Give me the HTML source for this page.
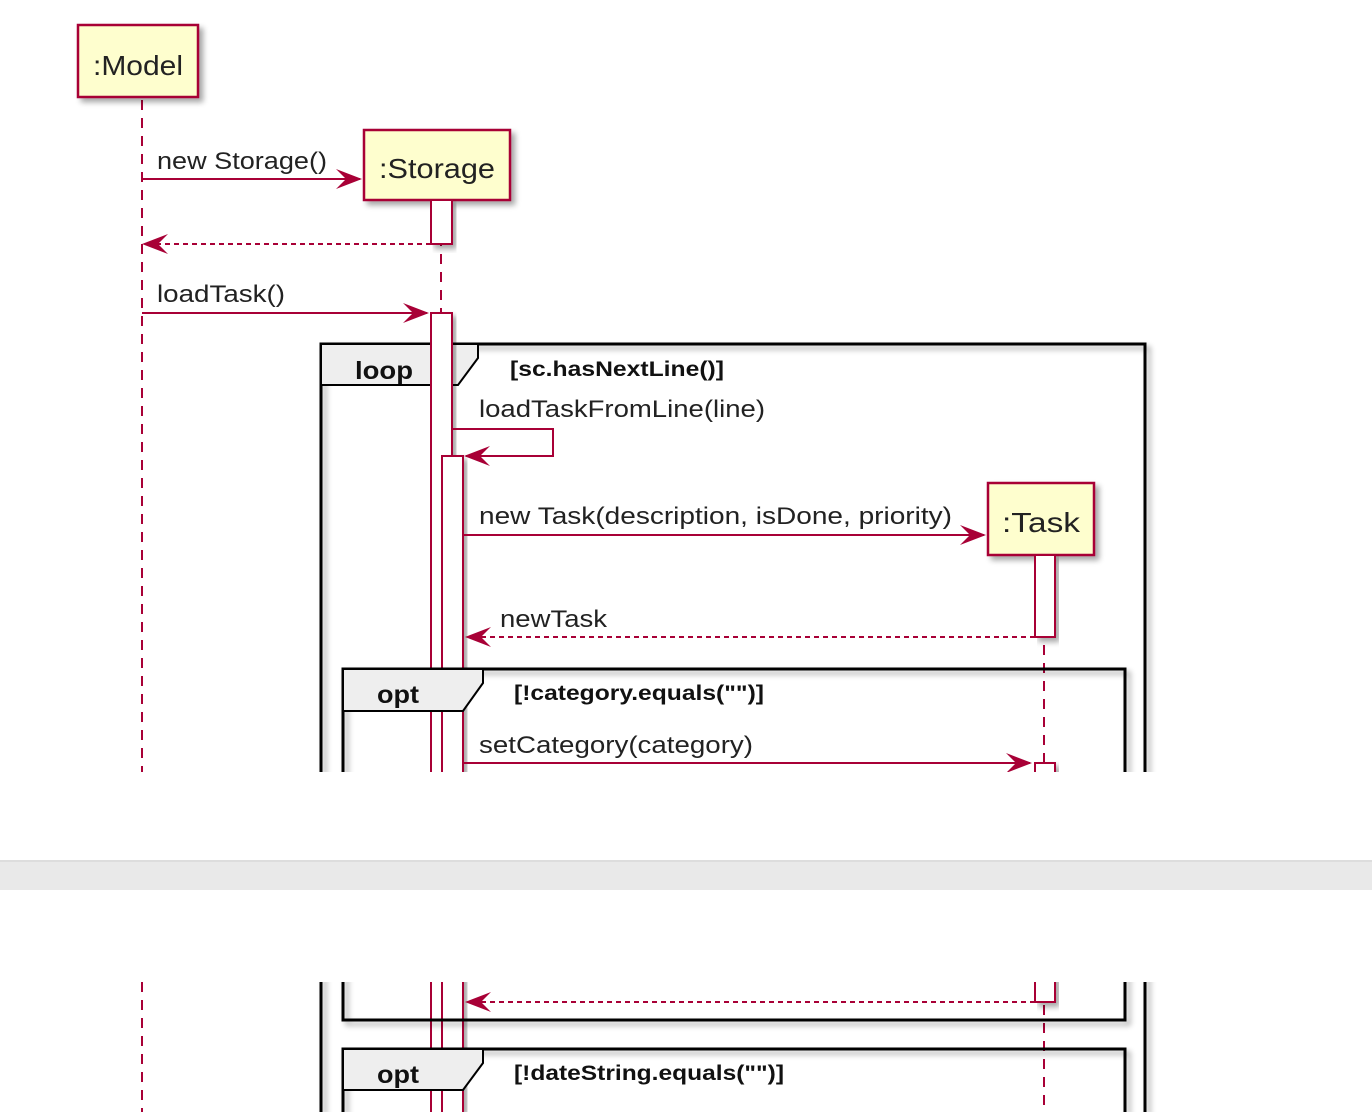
<!DOCTYPE html>
<html><head><meta charset="utf-8"><style>
html,body{margin:0;padding:0;background:#fff;width:1372px;height:1112px;overflow:hidden}
svg{display:block}
.m{font-family:"Liberation Sans Narrow","Liberation Sans",sans-serif;font-size:24px;fill:#222}
.p{font-family:"Liberation Sans Narrow","Liberation Sans",sans-serif;font-size:28px;fill:#222}
.g{font-family:"Liberation Sans Narrow","Liberation Sans",sans-serif;font-size:21px;font-weight:bold;fill:#111}
.t{font-family:"Liberation Sans","Liberation Sans",sans-serif;font-size:25px;font-weight:bold;fill:#111}
</style></head><body>
<svg width="1372" height="1112" viewBox="0 0 1372 1112" xmlns="http://www.w3.org/2000/svg" style="overflow:hidden">
<defs>
<filter id="sh" x="-10%" y="-10%" width="130%" height="130%"><feGaussianBlur in="SourceAlpha" stdDeviation="3"/><feOffset dx="4" dy="4"/><feComponentTransfer><feFuncA type="linear" slope="0.35"/></feComponentTransfer><feMerge><feMergeNode/><feMergeNode in="SourceGraphic"/></feMerge></filter>
</defs>
<g stroke="#A80036" stroke-width="2" fill="none">
<line x1="142" y1="100" x2="142" y2="1112" stroke-dasharray="10,8"/>
<line x1="441" y1="200" x2="441" y2="1112" stroke-dasharray="10,8"/>
<line x1="1044" y1="555" x2="1044" y2="1112" stroke-dasharray="10,8"/>
</g>
<rect x="78" y="25" width="120" height="72" fill="#FEFECE" stroke="#A80036" stroke-width="2.5" filter="url(#sh)"/>
<text x="93" y="75" class="p" textLength="90" lengthAdjust="spacingAndGlyphs">:Model</text>
<rect x="364" y="130" width="146" height="70" fill="#FEFECE" stroke="#A80036" stroke-width="2.5" filter="url(#sh)"/>
<text x="379" y="178" class="p" textLength="116" lengthAdjust="spacingAndGlyphs">:Storage</text>
<rect x="431" y="200" width="21" height="44" fill="#fff" stroke="#A80036" stroke-width="2" filter="url(#sh)"/>
<path d="M321,1112 V344 H1145 V1112" fill="none" stroke="#000" stroke-width="3" filter="url(#sh)"/>
<path d="M321,344 H478 V358 L458,385 H321 Z" fill="#EEEEEE" stroke="#000" stroke-width="2"/>
<text x="355" y="379" class="t" textLength="58" lengthAdjust="spacingAndGlyphs">loop</text>
<text x="510" y="376" class="g" textLength="214" lengthAdjust="spacingAndGlyphs">[sc.hasNextLine()]</text>
<path d="M431,1112 V313 H452 V1112" fill="#fff" stroke="#A80036" stroke-width="2" filter="url(#sh)"/>
<path d="M442,1112 V456 H463 V1112" fill="#fff" stroke="#A80036" stroke-width="2" filter="url(#sh)"/>
<rect x="988" y="483" width="106" height="72" fill="#FEFECE" stroke="#A80036" stroke-width="2.5" filter="url(#sh)"/>
<text x="1002" y="532" class="p" textLength="78" lengthAdjust="spacingAndGlyphs">:Task</text>
<rect x="1035" y="555" width="20" height="82" fill="#fff" stroke="#A80036" stroke-width="2" filter="url(#sh)"/>
<rect x="343" y="669" width="782" height="351" fill="none" stroke="#000" stroke-width="3" filter="url(#sh)"/>
<path d="M343,669 H483 V683 L463,711 H343 Z" fill="#EEEEEE" stroke="#000" stroke-width="2"/>
<text x="377" y="703" class="t" textLength="42" lengthAdjust="spacingAndGlyphs">opt</text>
<text x="514" y="700" class="g" textLength="250" lengthAdjust="spacingAndGlyphs">[!category.equals("")]</text>
<rect x="1035" y="763" width="20" height="239" fill="#fff" stroke="#A80036" stroke-width="2" filter="url(#sh)"/>
<path d="M343,1112 V1049 H1125 V1112" fill="none" stroke="#000" stroke-width="3" filter="url(#sh)"/>
<path d="M343,1049 H483 V1063 L463,1090 H343 Z" fill="#EEEEEE" stroke="#000" stroke-width="2"/>
<text x="377" y="1083" class="t" textLength="42" lengthAdjust="spacingAndGlyphs">opt</text>
<text x="514" y="1080" class="g" textLength="270" lengthAdjust="spacingAndGlyphs">[!dateString.equals("")]</text>
<g stroke="#A80036" stroke-width="2" fill="none">
<line x1="142" y1="179" x2="360" y2="179"/>
<line x1="431" y1="244" x2="145" y2="244" stroke-dasharray="5,4"/>
<line x1="142" y1="313" x2="427" y2="313"/>
<polyline points="452,429 553,429 553,456 466,456"/>
<line x1="463" y1="535" x2="984" y2="535"/>
<line x1="1035" y1="637" x2="468" y2="637" stroke-dasharray="5,4"/>
<line x1="463" y1="763" x2="1030" y2="763"/>
<line x1="1035" y1="1002" x2="468" y2="1002" stroke-dasharray="5,4"/>
</g>
<g fill="#A80036">
<path d="M362,179 L336,169 L346,179 L336,189 Z"/>
<path d="M142,244 L168,234 L158,244 L168,254 Z"/>
<path d="M429,313 L403,303 L413,313 L403,323 Z"/>
<path d="M464,456 L490,446 L480,456 L490,466 Z"/>
<path d="M986,535 L960,525 L970,535 L960,545 Z"/>
<path d="M465,637 L491,627 L481,637 L491,647 Z"/>
<path d="M1032,763 L1006,753 L1016,763 L1006,773 Z"/>
<path d="M465,1002 L491,992 L481,1002 L491,1012 Z"/>
</g>
<text x="157" y="169" class="m" textLength="170" lengthAdjust="spacingAndGlyphs">new Storage()</text>
<text x="157" y="302" class="m" textLength="128" lengthAdjust="spacingAndGlyphs">loadTask()</text>
<text x="479" y="417" class="m" textLength="286" lengthAdjust="spacingAndGlyphs">loadTaskFromLine(line)</text>
<text x="479" y="524" class="m" textLength="473" lengthAdjust="spacingAndGlyphs">new Task(description, isDone, priority)</text>
<text x="500" y="627" class="m" textLength="107" lengthAdjust="spacingAndGlyphs">newTask</text>
<text x="479" y="753" class="m" textLength="274" lengthAdjust="spacingAndGlyphs">setCategory(category)</text>
<rect x="0" y="772" width="1372" height="88" fill="#fff"/>
<rect x="0" y="860" width="1372" height="30" fill="#E9E9E9"/>
<rect x="0" y="860" width="1372" height="2" fill="#DDDDDD"/>
<rect x="0" y="890" width="1372" height="92" fill="#fff"/>
</svg>
</body></html>
